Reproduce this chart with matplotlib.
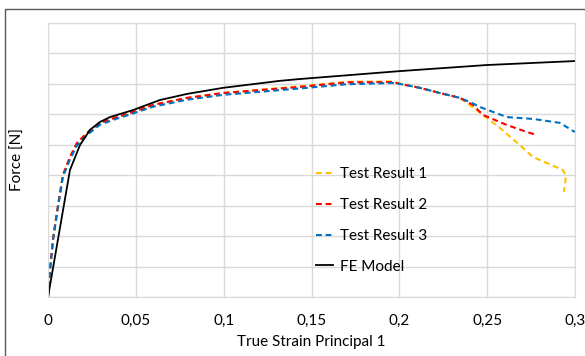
import matplotlib
matplotlib.use("Agg")
import matplotlib.pyplot as plt
from matplotlib.patches import Rectangle
from matplotlib.ticker import FuncFormatter, MultipleLocator

plt.rcParams['font.family'] = ['Lato', 'DejaVu Sans']

# test curves share the same elastic / hardening part up to ~0.24 strain
strain_t1 = [0, 0.0011, 0.0030, 0.0059, 0.0085, 0.0125, 0.0165, 0.0222, 0.0296, 0.0393,
             0.0484, 0.0598, 0.0791, 0.0996, 0.1434, 0.1702, 0.1964, 0.2003, 0.2117, 0.2231,
             0.2345, 0.2385, 0.2476, 0.2573, 0.2686, 0.2760, 0.2840, 0.2931, 0.2948, 0.2943,
             0.2937]
force_t1 = [0, 0.89, 1.98, 3.09, 4.01, 4.60, 5.06, 5.39, 5.72, 5.91,
            6.08, 6.31, 6.54, 6.70, 6.92, 7.07, 7.08, 7.01, 6.87, 6.70,
            6.54, 6.37, 5.98, 5.55, 4.99, 4.60, 4.40, 4.17, 3.97, 3.71,
            3.45]

strain_t2 = [0, 0.0011, 0.0030, 0.0059, 0.0085, 0.0125, 0.0165, 0.0222, 0.0296, 0.0393,
             0.0484, 0.0598, 0.0791, 0.0996, 0.1434, 0.1702, 0.1964, 0.2003, 0.2117, 0.2231,
             0.2345, 0.2419, 0.2476, 0.2612, 0.2726, 0.2783]
force_t2 = [0, 0.89, 1.98, 3.09, 4.01, 4.60, 5.06, 5.39, 5.72, 5.91,
            6.08, 6.31, 6.54, 6.70, 6.90, 7.05, 7.06, 7.00, 6.87, 6.70,
            6.54, 6.31, 5.98, 5.65, 5.42, 5.32]

strain_t3 = [0, 0.0011, 0.0030, 0.0059, 0.0085, 0.0125, 0.0165, 0.0222, 0.0296, 0.0393,
             0.0484, 0.0598, 0.0791, 0.0996, 0.1434, 0.1702, 0.1964, 0.2003, 0.2117, 0.2231,
             0.2345, 0.2419, 0.2459, 0.2612, 0.2760, 0.2914, 0.2999]
force_t3 = [0, 0.85, 1.92, 3.02, 3.95, 4.52, 4.98, 5.32, 5.66, 5.86,
            6.03, 6.25, 6.48, 6.64, 6.85, 6.99, 7.03, 7.00, 6.87, 6.70,
            6.54, 6.36, 6.24, 5.91, 5.85, 5.72, 5.42]

strain_fe = [0, 0.0060, 0.0125, 0.0182, 0.0239, 0.0296, 0.0353, 0.0484, 0.0637, 0.0791,
             0.0996, 0.1320, 0.1434, 0.2003, 0.2499, 0.2999]
force_fe = [0, 2.00, 4.17, 4.99, 5.49, 5.75, 5.91, 6.14, 6.47, 6.67,
            6.87, 7.10, 7.16, 7.42, 7.62, 7.75]

labels = ['Test Result 1', 'Test Result 2', 'Test Result 3', 'FE Model']

fig = plt.figure(figsize=(5.85, 3.56), dpi=100)
fig.patches.append(Rectangle((5 / 585, -0.1), 1.2, 1 - 9 / 356 + 0.1,
                             transform=fig.transFigure, fill=False,
                             edgecolor='#595959', linewidth=1.0))
ax = fig.add_axes([48 / 585, 1 - 297 / 356, 527 / 585, 274 / 356])

dash = (2.8, 1.8)
ax.plot(strain_t1, force_t1, color='#FFC000', lw=1.5, dashes=dash, label=labels[0])
ax.plot(strain_t2, force_t2, color='#FF0000', lw=1.5, dashes=dash, label=labels[1])
ax.plot(strain_t3, force_t3, color='#0070C0', lw=1.5, dashes=dash, label=labels[2])
ax.plot(strain_fe, force_fe, color='black', lw=1.3, label=labels[3])

ax.set_xlim(0, 0.3)
ax.set_ylim(0, 9)
ax.xaxis.set_major_locator(MultipleLocator(0.05))
ax.yaxis.set_major_locator(MultipleLocator(1))
ax.xaxis.set_major_formatter(FuncFormatter(lambda v, p: ('%g' % round(v, 3)).replace('.', ',')))
ax.set_yticklabels([])
ax.tick_params(length=0, labelsize=11, pad=12)
ax.grid(True, color='#d9d9d9', lw=1)
for s in ax.spines.values():
    s.set_color('#d9d9d9')

ax.set_xlabel('True Strain Principal 1', fontsize=11, labelpad=5)
ax.set_ylabel('Force [N]', fontsize=11)
ax.yaxis.set_label_coords(-0.044, 0.5)

ax.legend(loc='upper left', bbox_to_anchor=(0.5085, 0.473), frameon=False,
          fontsize=11, borderpad=0, borderaxespad=0, handlelength=1.1,
          handletextpad=0.5, labelspacing=1.1)

fig.savefig('out.png', dpi=100)
